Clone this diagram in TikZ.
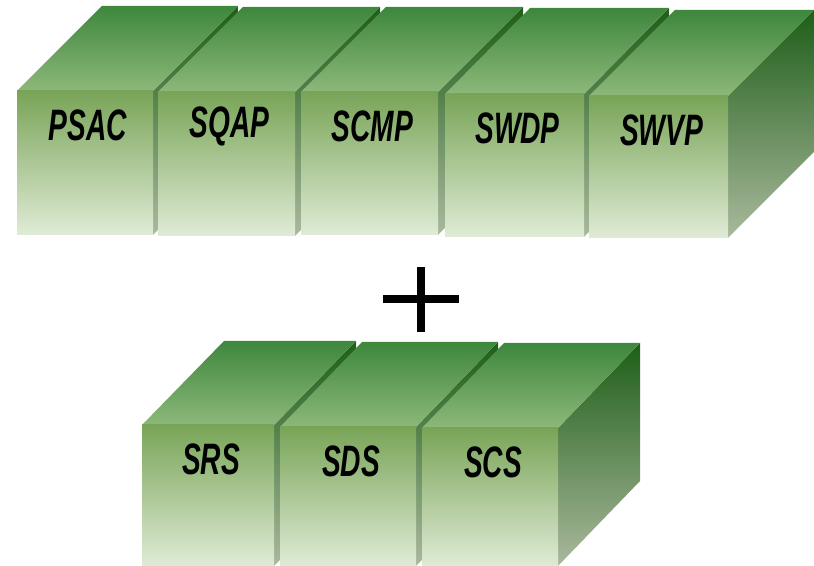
\documentclass[tikz,border=0pt]{standalone}
\usepackage{fontspec}
\newfontfamily\boxfont[FakeStretch=0.64]{Liberation Sans}

\definecolor{frontTop}{HTML}{78A457}
\definecolor{frontMid}{HTML}{A3BF7B}
\definecolor{frontBot}{HTML}{E0EBD6}
\definecolor{lidBack}{HTML}{3E873D}
\definecolor{lidFront}{HTML}{8DB87A}
\definecolor{sideTop}{HTML}{1E5E18}
\definecolor{sideMid}{HTML}{6E8C50}
\definecolor{sideBot}{HTML}{AAB99D}

\tikzset{
  boxlabel/.style={font=\boxfont\bfseries\itshape\fontsize{22}{24}\selectfont, inner sep=0pt},
  frontface/.style={top color=frontTop, middle color=frontMid, bottom color=frontBot},
  lidface/.style={top color=lidBack, bottom color=lidFront},
  sideface/.style={top color=sideTop, middle color=sideMid, bottom color=sideBot}
}

% name, left, right, top, bottom, dx, dy, label
\newcommand{\docbox}[8]{%
  \shade[sideface] (#3,#4) -- (#3+#6,#4+#7) -- (#3+#6,#5+#7) -- (#3,#5) -- cycle;
  \shade[lidface] (#2,#4) -- (#2+#6,#4+#7) -- (#3+#6,#4+#7) -- (#3,#4) -- cycle;
  \shade[frontface] (#2,#5) rectangle (#3,#4);
  \node[boxlabel] (#1) at ({(#2+#3)/2+3},{#4-34}) {#8};
}

\begin{document}
\begin{tikzpicture}[x=0.5pt,y=0.5pt]
\useasboundingbox (0,0) rectangle (814,566);

% plans
\docbox{psac}{17}{153}{475}{331}{85}{85}{PSAC}
\docbox{sqap}{158}{295}{474}{330}{85}{85}{SQAP}
\docbox{scmp}{301}{438}{474}{331}{85}{85}{SCMP}
\docbox{swdp}{445}{584}{472}{329}{85}{86}{SWDP}
\docbox{swvp}{589}{728}{470}{328}{86}{86}{SWVP}

% plus
\draw[line width=4pt] (383,267) -- (459,267);
\draw[line width=4pt] (421,299) -- (421,234);

% standards
\docbox{srs}{142}{274}{141}{0}{82}{84}{SRS}
\docbox{sds}{280}{416}{139}{0}{82}{85}{SDS}
\docbox{scs}{422}{558}{138}{0}{82}{85}{SCS}
\end{tikzpicture}
\end{document}
